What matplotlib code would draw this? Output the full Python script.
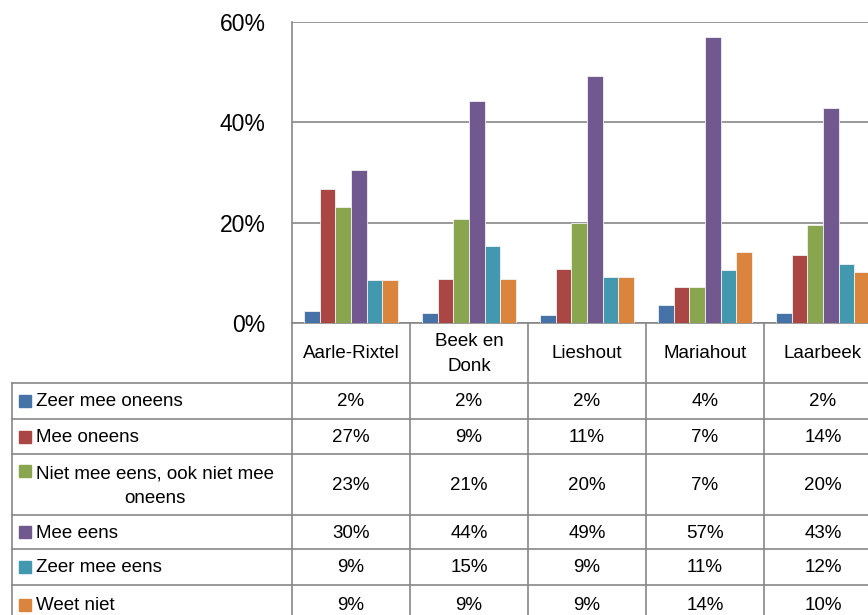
import numpy as np
import matplotlib.pyplot as plt

plt.rcParams['font.family'] = ['Liberation Sans', 'DejaVu Sans']

# data
places = ['Aarle-Rixtel', 'Beek en\nDonk', 'Lieshout', 'Mariahout', 'Laarbeek']
answers = ['Zeer mee oneens', 'Mee oneens', 'Niet mee eens, ook niet mee\noneens',
           'Mee eens', 'Zeer mee eens', 'Weet niet']
zeer_mee_oneens = [2.3, 1.9, 1.6, 3.6, 2.0]
mee_oneens = [26.8, 8.7, 10.7, 7.1, 13.6]
neutraal = [23.1, 20.7, 20.0, 7.1, 19.6]
mee_eens = [30.4, 44.2, 49.2, 57.1, 42.9]
zeer_mee_eens = [8.6, 15.3, 9.2, 10.6, 11.7]
weet_niet = [8.6, 8.7, 9.2, 14.2, 10.1]
series = [zeer_mee_oneens, mee_oneens, neutraal, mee_eens, zeer_mee_eens, weet_niet]
colors = ['#4572A7', '#AA4643', '#89A54E', '#71588F', '#4198AF', '#DB843D']

W, H = 868, 615
fig = plt.figure(figsize=(W / 100, H / 100), dpi=100)

# layout in pixels
left, right, top, bottom = 292, 882, 22, 323
cat_w = (right - left) / len(places)
grey = '#878787'

ax = fig.add_axes([left / W, 1 - bottom / H, (right - left) / W, (bottom - top) / H])
x = np.arange(len(places))
bw = 1 / 7.5
for i, (vals, c) in enumerate(zip(series, colors)):
    ax.bar(x + (i - 2.5) * bw, np.array(vals) / 100, width=bw, color=c,
           edgecolor='#f2f2f2', linewidth=0.6, zorder=3)

ax.set_xlim(-0.5, len(places) - 0.5)
ax.set_ylim(0, 0.6)
ax.set_yticks([0, 0.2, 0.4, 0.6])
ax.set_yticklabels(['0%', '20%', '40%', '60%'], fontsize=16.5)
ax.tick_params(axis='y', length=0, pad=19)
ax.set_xticks([])
ax.grid(axis='y', color=grey, linewidth=1.2)
ax.set_axisbelow(True)
for s in ['top', 'right']:
    ax.spines[s].set_visible(False)
for s in ['left', 'bottom']:
    ax.spines[s].set_color(grey)
    ax.spines[s].set_linewidth(1.2)

# data table
tb = fig.add_axes([0, 0, 1, 1])
tb.set_xlim(0, W)
tb.set_ylim(H, 0)
tb.axis('off')

rows = [323, 383, 419, 454, 515, 549, 585, 625]
col_x = [left + k * cat_w for k in range(len(places) + 1)]
lw = 1.2
for k, cx in enumerate(col_x):
    tb.plot([cx, cx], [rows[0], H + 5], color=grey, lw=lw)
tb.plot([12, 12], [rows[1], H + 5], color=grey, lw=lw)
for r in rows[1:-1]:
    tb.plot([12, W + 5], [r, r], color=grey, lw=lw)

fs = 13.5
for k, name in enumerate(places):
    tb.text(col_x[k] + cat_w / 2, (rows[0] + rows[1]) / 2 + 1, name, ha='center',
            va='center', fontsize=fs, linespacing=1.6)

for j, (lab, vals, c) in enumerate(zip(answers, series, colors)):
    y0, y1 = rows[j + 1], rows[j + 2]
    if '\n' in lab:
        tb.text(36, y0 + 32, lab, ha='left', va='center', fontsize=fs,
                multialignment='center', linespacing=1.6)
        sq_y = y0 + 17
    else:
        tb.text(36, (y0 + y1) / 2 + 1, lab, ha='left', va='center', fontsize=fs)
        sq_y = (y0 + y1) / 2
    tb.add_patch(plt.Rectangle((19, sq_y - 6), 12, 12, color=c))
    for k, v in enumerate(vals):
        tb.text(col_x[k] + cat_w / 2, (y0 + y1) / 2 + 1, '%d%%' % int(v + 0.5),
                ha='center', va='center', fontsize=fs)

fig.savefig('out.png', dpi=100)
